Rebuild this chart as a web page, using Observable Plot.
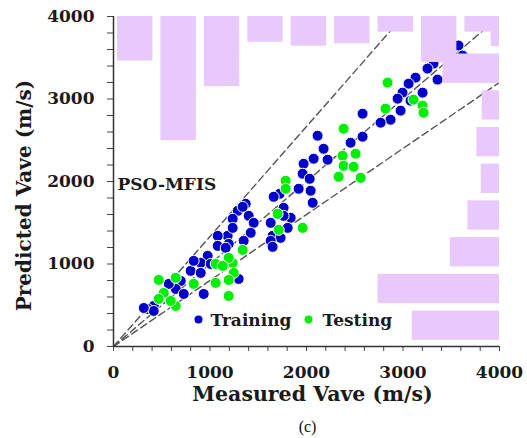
<!DOCTYPE html>
<html><head><meta charset="utf-8">
<script src="https://cdn.jsdelivr.net/npm/d3@7"></script>
<script src="https://cdn.jsdelivr.net/npm/@observablehq/plot@0.6"></script>
<style>body{margin:0;background:#fff}</style>
</head><body><div id="chart"></div>
<script>
// Training (blue) points: measured vs predicted Vave (m/s)
const trainMeasured = [3575,3617,3316,3254,3358,3130,3058,2995,3203,2944,3078,2975,2871,2768,2581,2581,2457,2115,2177,2074,2219,1970,1960,2033,1919,2043,2064,1722,1763,1836,1370,1287,1401,1453,1183,1422,1080,1194,1629,1763,1649,1732,1660,1339,1235,1235,1349,1805,1629,1649,1080,1163,976,904,1007,800,904,697,645,728,935,417,355,417,314,1297,831,573];
const trainPredicted = [3648,3526,3429,3369,3235,3259,3186,3077,3077,3004,2980,2859,2749,2713,2822,2543,2470,2555,2397,2276,2264,2215,2094,2033,1912,1888,1742,1851,1681,1560,1730,1645,1584,1499,1341,1378,1341,1244,1499,1584,1341,1317,1815,1693,1548,1438,1281,1438,1281,1208,1220,1196,1099,1014,1001,917,892,795,698,637,637,492,455,431,467,819,1038,759];
// Testing (green) points
const testMeasured = [2840,2819,3109,3203,3213,2561,2385,2374,2509,2385,2488,2333,1784,1784,1701,1712,1960,1339,1235,1194,1059,1132,1246,1194,1059,831,645,469,521,469,645,593,1194];
const testPredicted = [3199,2883,2992,2919,2834,2045,2640,2312,2337,2191,2179,2058,2009,1912,1608,1414,1438,1171,1014,1074,1001,977,892,807,771,759,832,807,649,577,492,552,613];

// Marginal histogram of measured values (bars hanging from the top)
const topBinEdges = [0,450,900,1350,1800,2250,2700,3150,3600,4050];
const topHistLen = [540,1505,850,312,360,331,190,558,190];
// Marginal histogram of predicted values (bars from the right edge), bottom bin first
const rightBinEdges = [30,475,920,1365,1810,2255,2700,3145,3590,4035];
const rightHistLen = [904,1259,510,327,189,234,179,586,86];

const refSlopes = [4/3, 1, 0.8];
const seriesNames = ["Training", "Testing"];
const seriesColors = ["#0000c8", "#00ee00"];
const axisTicks = d3.range(0, 4001, 200);
const modelName = "PSO-MFIS";
const xTitle = "Measured Vave (m/s)";
const yTitle = "Predicted Vave (m/s)";
const caption = "(c)";

const train = trainMeasured.map((x, i) => ({x, y: trainPredicted[i]}));
const test = testMeasured.map((x, i) => ({x, y: testPredicted[i]}));
const refLines = refSlopes.flatMap((s, k) => [{x: 0, y: 0, k}, {x: 4000, y: 4000 * s, k}]);
const topBins = topHistLen.map((len, i) => ({x1: topBinEdges[i], x2: topBinEdges[i + 1], len}));
const rightBins = rightHistLen.map((len, i) => ({y1: rightBinEdges[i], y2: rightBinEdges[i + 1], len}));
const barFill = "#e9c8fc";
const serif = "'DejaVu Serif', serif";
const ink = "#1a1a1a";

const chart = Plot.plot({
  width: 527,
  height: 438,
  marginLeft: 113,
  marginRight: 28,
  marginTop: 16,
  marginBottom: 92,
  x: {domain: [0, 4000]},
  y: {domain: [0, 4000]},
  style: {fontFamily: serif, fontWeight: "bold", color: ink, background: "white"},
  marks: [
    Plot.line(refLines, {x: "x", y: "y", z: "k", stroke: "#555", strokeWidth: 1.4, strokeDasharray: "7,4", clip: true}),
    Plot.dot(train, {x: "x", y: "y", r: 5.5, fill: seriesColors[0], stroke: "white", strokeWidth: 1}),
    Plot.dot(test, {x: "x", y: "y", r: 5.5, fill: seriesColors[1], stroke: "white", strokeWidth: 1}),
    Plot.rect(topBins, {x1: "x1", x2: "x2", y1: 4000, y2: d => 4000 - d.len, fill: barFill, insetLeft: 4, insetRight: 4, clip: true}),
    Plot.rect(rightBins, {y1: "y1", y2: "y2", x1: d => 4000 - d.len, x2: 4000, fill: barFill, insetTop: 3.7, insetBottom: 3.7, clip: true}),
    Plot.axisX({ticks: axisTicks, tickFormat: d => d % 1000 === 0 ? String(d) : "", tickSize: 5, tickPadding: 14, fontSize: 17, label: null, stroke: "#444"}),
    Plot.axisY({ticks: axisTicks, tickFormat: d => d % 1000 === 0 ? String(d) : "", tickSize: 6, tickPadding: 13, fontSize: 17, label: null, stroke: "#444"}),
    Plot.ruleX([0], {stroke: "#333", strokeWidth: 1.5}),
    Plot.ruleY([0], {stroke: "#333", strokeWidth: 1.5}),
    Plot.text([modelName], {frameAnchor: "left", dx: 4, dy: 3, textAnchor: "start", lineAnchor: "middle", fontSize: 17, fontWeight: "bold", fill: ink}),
    Plot.text([xTitle], {frameAnchor: "bottom", dx: 6, dy: 48, textAnchor: "middle", lineAnchor: "middle", fontSize: 20.5, fontWeight: "bold", fill: ink}),
    Plot.text([yTitle], {frameAnchor: "left", dx: -89, dy: 14, rotate: -90, textAnchor: "middle", lineAnchor: "middle", fontSize: 20, fontWeight: "bold", fill: ink}),
    Plot.text([caption], {frameAnchor: "bottom", dx: 1, dy: 80, textAnchor: "middle", lineAnchor: "middle", fontSize: 16, fontWeight: "normal", fontFamily: "'Liberation Serif', serif", fill: "#111"}),
    ...seriesNames.map((name, i) => Plot.dot([name], {frameAnchor: "bottom-left", dx: [85, 195][i], dy: -27, r: 4, fill: seriesColors[i]})),
    ...seriesNames.map((name, i) => Plot.text([name], {frameAnchor: "bottom-left", dx: [97, 209][i], dy: -26, textAnchor: "start", lineAnchor: "middle", fontSize: 17, fontWeight: "bold", fill: ink}))
  ]
});
document.getElementById("chart").appendChild(chart);
</script>
</body></html>
